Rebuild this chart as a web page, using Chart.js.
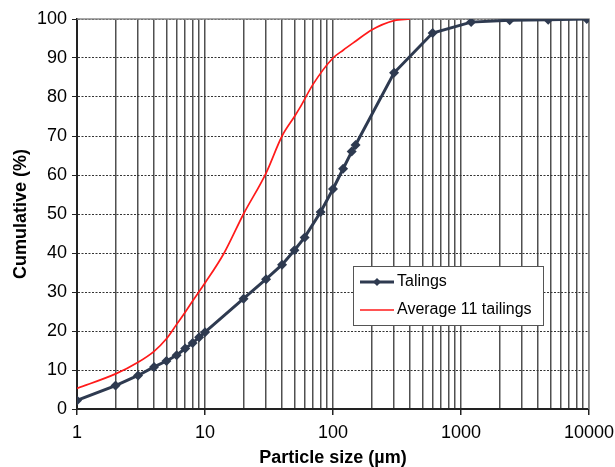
<!DOCTYPE html>
<html lang="en">
<head>
<meta charset="UTF-8">
<title>Particle size distribution</title>
<script src="https://cdn.jsdelivr.net/npm/chart.js"></script>
<style>
  html, body { margin: 0; padding: 0; background: #fff; }
  #wrap { width: 615px; height: 467px; }
</style>
</head>
<body>
<div id="wrap"><canvas id="chart"></canvas></div>
<script>
  /* Talings: sizes (um) and cumulative passing (%) */
  const talingSize = [1, 2, 3, 4, 5, 6, 7, 8, 9, 10, 20, 30, 40, 50, 60, 80, 100, 120, 140, 150, 300, 600, 1200, 2400, 4800, 9600]
  const talingPass = [2.2, 6.0, 8.6, 10.8, 12.3, 13.8, 15.5, 16.9, 18.4, 19.7, 28.3, 33.3, 37.0, 40.7, 44.0, 50.5, 56.4, 61.6, 66.0, 67.7, 86.2, 96.4, 99.2, 99.7, 99.8, 100]

  /* Average of 11 tailings */
  const avgSize = [1, 2, 3, 4, 5, 6, 7, 8, 10, 14, 20, 30, 40, 50, 55, 70, 100, 120, 150, 200, 300, 400]
  const avgPass = [5.3, 9.0, 12.0, 14.8, 18.0, 21.7, 24.8, 27.7, 32.3, 39.8, 50.0, 60.5, 70.0, 75.0, 77.2, 83.3, 90.0, 92.0, 94.3, 97.2, 99.6, 100]

  const xMajor = [1, 10, 100, 1000, 10000]
  const yTicks = [0, 10, 20, 30, 40, 50, 60, 70, 80, 90, 100]

  const seriesNames = ["Talings", "Average 11 tailings"]
  const darkBlue = "#2e3a50"
  const red = "#ff1a1a"
  const fontFamily = "'Liberation Sans', Arial, sans-serif"

  const toPoints = (xs, ys) => xs.map((x, i) => ({ x: x, y: ys[i] }))

  /* Solid frame on top/right of the plot area */
  const framePlugin = {
    id: "frame",
    beforeDatasetsDraw(chart) {
      const { ctx, chartArea: a } = chart
      ctx.save()
      ctx.strokeStyle = "#8a8a8a"
      ctx.lineWidth = 1.5
      ctx.beginPath()
      ctx.moveTo(a.left, a.top)
      ctx.lineTo(a.right, a.top)
      ctx.lineTo(a.right, a.bottom)
      ctx.stroke()
      ctx.restore()
    }
  }

  /* Boxed legend sitting inside the plot */
  const boxLegend = {
    id: "boxLegend",
    afterDraw(chart) {
      const { ctx, chartArea: a } = chart
      const x0 = a.left + 276
      const y0 = a.top + 247
      const w = 190
      const h = 59
      ctx.save()
      ctx.fillStyle = "#fff"
      ctx.fillRect(x0, y0, w, h)
      ctx.strokeStyle = "#555"
      ctx.lineWidth = 1
      ctx.strokeRect(x0 + 0.5, y0 + 0.5, w, h)
      ctx.font = "16px " + fontFamily
      ctx.textBaseline = "middle"
      const rows = [y0 + 16, y0 + 44]
      // Talings sample: thick line with a diamond
      ctx.strokeStyle = darkBlue
      ctx.lineWidth = 3
      ctx.beginPath()
      ctx.moveTo(x0 + 7, rows[0])
      ctx.lineTo(x0 + 41, rows[0])
      ctx.stroke()
      ctx.fillStyle = darkBlue
      ctx.beginPath()
      ctx.moveTo(x0 + 24, rows[0] - 4)
      ctx.lineTo(x0 + 28, rows[0])
      ctx.lineTo(x0 + 24, rows[0] + 4)
      ctx.lineTo(x0 + 20, rows[0])
      ctx.closePath()
      ctx.fill()
      // Average sample: thin red line
      ctx.strokeStyle = red
      ctx.lineWidth = 1.5
      ctx.beginPath()
      ctx.moveTo(x0 + 7, rows[1])
      ctx.lineTo(x0 + 41, rows[1])
      ctx.stroke()
      ctx.fillStyle = "#000"
      ctx.fillText(seriesNames[0], x0 + 44, rows[0])
      ctx.fillText(seriesNames[1], x0 + 44, rows[1])
      ctx.restore()
    }
  }

  const ctx = document.getElementById("chart").getContext("2d")
  const myChart = new Chart(ctx, {
    type: "line",
    data: {
      datasets: [{
        label: seriesNames[0],
        data: toPoints(talingSize, talingPass),
        borderColor: darkBlue,
        backgroundColor: darkBlue,
        borderWidth: 3,
        pointStyle: "rectRot",
        pointRadius: 5,
        pointBorderWidth: 0,
        tension: 0
      }, {
        label: seriesNames[1],
        data: toPoints(avgSize, avgPass),
        borderColor: red,
        backgroundColor: red,
        borderWidth: 1.7,
        pointRadius: 0,
        cubicInterpolationMode: "monotone"
      }]
    },
    options: {
      responsive: true,
      maintainAspectRatio: false,
      animation: false,
      layout: { padding: { left: 4, right: 0, top: 19, bottom: 0 } },
      plugins: {
        legend: { display: false },
        tooltip: { enabled: false }
      },
      scales: {
        x: {
          type: "logarithmic",
          min: 1,
          max: 10000,
          afterBuildTicks(scale) {
            const t = []
            for (let p = 0; p < 4; p++) {
              for (let m = 1; m < 10; m++) t.push({ value: m * Math.pow(10, p) })
            }
            t.push({ value: 10000 })
            scale.ticks = t
          },
          afterFit(scale) {
            scale.height = 58
            scale.paddingRight = 26
          },
          ticks: {
            autoSkip: false,
            maxRotation: 0,
            color: "#000",
            padding: 7,
            font: { size: 18, family: fontFamily },
            callback: (v) => xMajor.includes(v) ? String(v) : ""
          },
          grid: {
            color: "#505050",
            lineWidth: 1.5,
            tickLength: 6,
            tickColor: (c) => xMajor.includes(c.tick && c.tick.value) ? "#222" : "rgba(0,0,0,0)"
          },
          border: { color: "#222", width: 2 },
          title: {
            display: true,
            text: "Particle size (\u00b5m)",
            color: "#000",
            padding: { top: 0, bottom: 0 },
            font: { size: 18, weight: "bold", family: fontFamily, lineHeight: 1 }
          }
        },
        y: {
          min: 0,
          max: 100,
          afterBuildTicks(scale) {
            scale.ticks = yTicks.map(v => ({ value: v }))
          },
          afterFit(scale) { scale.width = 73 },
          ticks: {
            color: "#000",
            padding: 5,
            font: { size: 18, family: fontFamily }
          },
          grid: {
            color: "#333",
            lineWidth: 1,
            tickLength: 5,
            tickColor: "#222"
          },
          border: { color: "#222", width: 2, dash: [2, 1.5] },
          title: {
            display: true,
            text: "Cumulative (%)",
            color: "#000",
            padding: { top: 6, bottom: 0 },
            font: { size: 18, weight: "bold", family: fontFamily }
          }
        }
      }
    },
    plugins: [framePlugin, boxLegend]
  })
</script>
</body>
</html>
